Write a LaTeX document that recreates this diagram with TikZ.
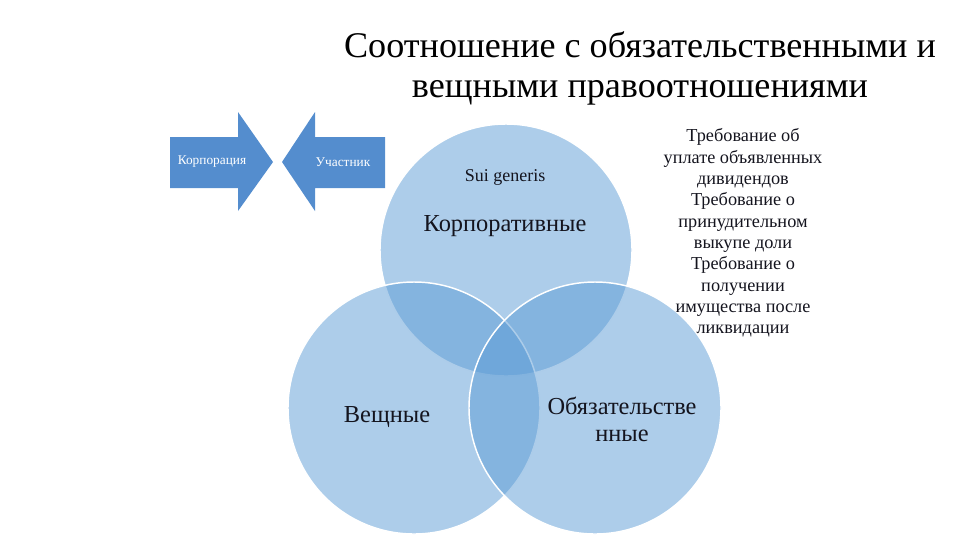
\documentclass[tikz,border=0pt]{standalone}
\usepackage{fontspec}
\setmainfont{Liberation Serif}
\usetikzlibrary{positioning}

\definecolor{vennblue}{RGB}{91,155,213}
\definecolor{arrowblue}{RGB}{84,141,206}
\definecolor{textdark}{RGB}{20,20,30}

\begin{document}
\begin{tikzpicture}[
  x=0.75pt, y=-0.75pt,
  vcircle/.style={circle, minimum size=189pt, inner sep=0pt, fill=vennblue, fill opacity=0.5, draw=white, line width=1.1pt},
  arrowshape/.style={fill=arrowblue, draw=none},
  arrowlabel/.style={font=\fontsize{10}{12}\selectfont, text=white},
  biglabel/.style={font=\fontsize{18.3}{20.3}\selectfont, text=textdark, align=center},
  sidetext/.style={font=\fontsize{13.7}{16}\selectfont, align=center, text=textdark}
]
\useasboundingbox (0,0) rectangle (960,540);

% title
\node[font=\fontsize{27.1}{30}\selectfont, align=center] (title) at (640,68)
  {Соотношение с обязательственными и\\вещными правоотношениями};

% arrows
\fill[arrowshape] (170,137) -- (238,137) -- (238,112) -- (273,162) -- (238,211) -- (238,188) -- (170,188) -- cycle;
\fill[arrowshape] (385,137) -- (315,137) -- (315,112) -- (282,162) -- (315,211) -- (315,188) -- (385,188) -- cycle;
\node[arrowlabel] (corp) at (212,162) {Корпорация};
\node[arrowlabel] (member) at (343,162) {Участник};

% venn circles
\node[vcircle] (korp) at (506,250) {};
\node[vcircle] (veshch) at (414,408) {};
\node[vcircle] (obyaz) at (595,408) {};

% labels
\node[font=\fontsize{13.5}{16}\selectfont, text=textdark] (sui) at (505,177) {Sui generis};
\node[biglabel] (korplabel) at (505,226) {Корпоративные};
\node[biglabel] (veshchlabel) at (387,417) {Вещные};
\node[biglabel] (obyazlabel) at (622,419) {Обязательстве\\нные};

\node[sidetext] (claims) at (743,233)
  {Требование об\\уплате объявленных\\дивидендов\\Требование о\\принудительном\\выкупе доли\\Требование о\\получении\\имущества после\\ликвидации};
\end{tikzpicture}
\end{document}
